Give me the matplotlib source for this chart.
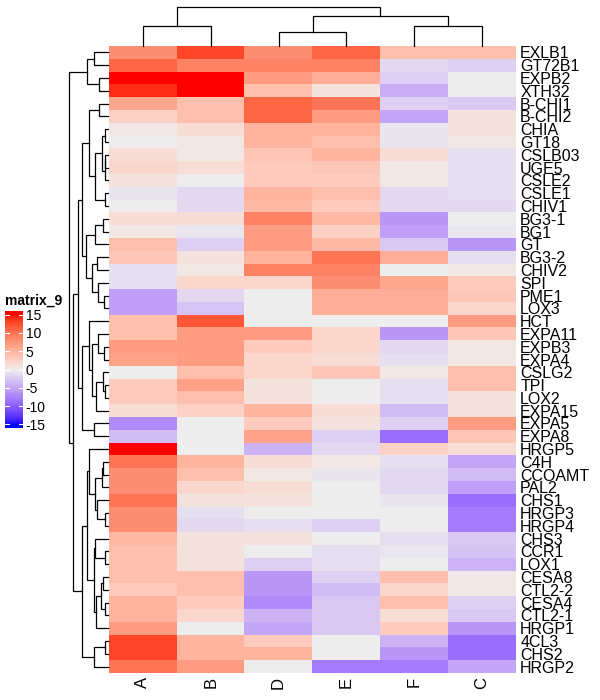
import numpy as np
import matplotlib
matplotlib.use("Agg")
import matplotlib.pyplot as plt
from matplotlib.colors import ListedColormap

# ---------------- data ----------------
columns = ["A", "B", "D", "E", "F", "C"]
rows = ["EXLB1", "GT72B1", "EXPB2", "XTH32", "B-CHI1", "B-CHI2", "CHIA", "GT18",
        "CSLB03", "UGE5", "CSLE2", "CSLE1", "CHIV1", "BG3-1", "BG1", "GT", "BG3-2",
        "CHIV2", "SPI", "PME1", "LOX3", "HCT", "EXPA11", "EXPB3", "EXPA4", "CSLG2",
        "TPI", "LOX2", "EXPA15", "EXPA5", "EXPA8", "HRGP5", "C4H", "CCOAMT", "PAL2",
        "CHS1", "HRGP3", "HRGP4", "CHS3", "CCR1", "LOX1", "CESA8", "CTL2-2", "CESA4",
        "CTL2-1", "HRGP1", "4CL3", "CHS2", "HRGP2"]

col_A = [8, 11, 15, 14, 6, 2.5, 0.5, 0, 1.5, 2, 1, -0.5, 0, 1.5, 0.5, 4, 3.5, -1, -1,
         -5.5, -5.5, 4, 4, 7, 6.5, 0, 3, 3, 1.5, -7, -3.5, 15, 10, 8, 8, 10, 8, 8, 4.5,
         4, 4, 4, 3, 5, 5, 7, 13, 13, 10]
col_B = [13, 9, 15, 15, 4, 4, 1.5, 0.5, 0.5, 1.5, 0, -1.5, -1.5, 1.5, -0.5, -2, 1,
         0.5, 2, -1.5, -3, 12, 7, 7, 7, 4, 6.5, 4, 2.5, 0, 0, 0, 5, 4, 2, 1, -1, -1.5,
         1, 1, 1, 4, 4, 3, 2, 0, 5, 5, 7]
col_D = [8, 9, 7, 4, 11, 11, 5, 5, 3.5, 3, 3, 5, 4.5, 9, 7, 7, 5, 9, 2, 0, 0, 0, 7,
         3, 2, 2, 1, 1, 5, 3, 6.5, -4, 1.5, 0.5, 1.5, 1, 0, -1, 1, 0, -2, -6, -6, -7,
         -4, -5, 3, 5, 0]
col_E = [11, 9, 5.5, 1, 10, 7, 5, 4, 5, 3.5, 3, 4, 3, 4.5, 2.5, 4.5, 10, 9, 8, 5.5,
         5.5, 0, 2, 2, 1.5, 3.5, 0, 0, 1.5, 1, -2, -1.5, 0.5, -0.5, 0, 0, 0, -2, 0,
         -1, -1, -2, -3.5, -2.5, -2.5, -2.5, 0, 0, -8]
col_F = [4, -1.5, -2, -4.5, -2, -5, -0.5, -0.5, 1.5, 0.5, 0.5, -1.5, -1.5, -6, -5.5,
         -2.5, 5.5, 0, 6, 5.5, 5.5, 0, -6, -1.5, -1, 0.5, -1, -1, -3.5, -2, -9, 2.5,
         -1, -1.5, -1.5, -0.5, 0, 0, -1, -0.5, 0, 4, 2, 4, 1.5, 3, -4, -6, -8]
col_C = [4, -2, 0, 0, -2.5, 1, 1, 0.5, -1, -1, -1, -1, -1.5, 0, -0.5, -6, -1, 0.5, 3,
         3.5, 2, 7, 3.5, 0.5, 0.5, 4, 4, 1, 1, 7, 3.5, 1.5, -5, -3.5, -5.5, -9, -8,
         -8, -2.5, -3, -4, 0.5, 0.5, -2, -2.5, -6, -9, -9, -5]

# column dendrogram: [height, left, right]
col_tree = [39, [20, "A", "B"], [30, [14, "D", "E"], [20, "F", "C"]]]

# row dendrogram: [height, left, right]
row_tree = [38.7,
    [21, [14.3, "EXLB1", "GT72B1"], [8.7, "EXPB2", "XTH32"]],
    [35.3,
        [30,
            [26,
                [19, [8.7, "B-CHI1", "B-CHI2"],
                     [13, [6, [3, "CHIA", "GT18"], [3.3, [2.7, "CSLB03", "UGE5"], "CSLE2"]],
                          [3, "CSLE1", "CHIV1"]]],
                [22, [12.7, [5, "BG3-1", "BG1"], "GT"],
                     [16, [11, "BG3-2", "CHIV2"], [10, "SPI", [4, "PME1", "LOX3"]]]]],
            [26,
                [19.3, "HCT", [16, [10, "EXPA11", [4, "EXPB3", "EXPA4"]],
                                   [12, [5, "CSLG2", [3, "TPI", "LOX2"]], "EXPA15"]]],
                [13.7, "EXPA5", "EXPA8"]]],
        [25.7,
            [21,
                [19.3, "HRGP5", [12.7, [6, [5, "C4H", "CCOAMT"], "PAL2"],
                                       [11, "CHS1", [2.7, "HRGP3", "HRGP4"]]]],
                [14, [12.7, "CHS3", [2.7, "CCR1", "LOX1"]],
                     [11.7, [7, [5.3, "CESA8", "CTL2-2"], [2.7, "CESA4", "CTL2-1"]], "HRGP1"]]],
            [13.7, [3, "4CL3", "CHS2"], "HRGP2"]]]]

legend_title = "matrix_9"
legend_ticks = [15, 10, 5, 0, -5, -10, -15]

data = np.array([col_A, col_B, col_D, col_E, col_F, col_C], dtype=float).T

# ---------------- colour map (LAB interpolation blue - #EEEEEE - red) ----------------
M = np.array([[0.4124564, 0.3575761, 0.1804375],
              [0.2126729, 0.7151522, 0.0721750],
              [0.0193339, 0.1191920, 0.9503041]])
WHITE = np.array([0.95047, 1.0, 1.08883])


def srgb_to_lab(rgb):
    rgb = np.asarray(rgb, float)
    lin = np.where(rgb <= 0.04045, rgb / 12.92, ((rgb + 0.055) / 1.055) ** 2.4)
    xyz = lin @ M.T
    t = xyz / WHITE
    d = 6 / 29
    f = np.where(t > d ** 3, np.cbrt(t), t / (3 * d * d) + 4 / 29)
    L = 116 * f[..., 1] - 16
    a = 500 * (f[..., 0] - f[..., 1])
    b = 200 * (f[..., 1] - f[..., 2])
    return np.stack([L, a, b], -1)


def lab_to_srgb(lab):
    L, a, b = lab[..., 0], lab[..., 1], lab[..., 2]
    fy = (L + 16) / 116
    fx = fy + a / 500
    fz = fy - b / 200
    f = np.stack([fx, fy, fz], -1)
    d = 6 / 29
    t = np.where(f > d, f ** 3, 3 * d * d * (f - 4 / 29))
    xyz = t * WHITE
    lin = np.clip(xyz @ np.linalg.inv(M).T, 0, 1)
    rgb = np.where(lin <= 0.0031308, 12.92 * lin, 1.055 * lin ** (1 / 2.4) - 0.055)
    return np.clip(rgb, 0, 1)


anchors = srgb_to_lab(np.array([[0, 0, 1], [0xEE / 255] * 3, [1, 0, 0]]))
n = 256
ts = np.linspace(0, 1, n)
cols = []
for t in ts:
    if t <= 0.5:
        u = t / 0.5
        lab = anchors[0] * (1 - u) + anchors[1] * u
    else:
        u = (t - 0.5) / 0.5
        lab = anchors[1] * (1 - u) + anchors[2] * u
    cols.append(lab)
cmap = ListedColormap(lab_to_srgb(np.array(cols)))

# ---------------- figure ----------------
W, H = 600, 700
fig = plt.figure(figsize=(6, 7), dpi=100)
plt.rcParams["font.family"] = ["Liberation Sans", "DejaVu Sans"]


def px(x0, y0, x1, y1):
    return [x0 / W, 1 - y1 / H, (x1 - x0) / W, (y1 - y0) / H]


hm_x0, hm_y0, hm_x1, hm_y1 = 109, 46, 516, 673
ax = fig.add_axes(px(hm_x0, hm_y0, hm_x1, hm_y1))
ax.imshow(data, cmap=cmap, vmin=-15, vmax=15, aspect="auto", interpolation="nearest")
ax.set_xticks(range(len(columns)))
ax.set_xticklabels(columns, rotation=90, fontsize=12)
ax.set_yticks(range(len(rows)))
ax.set_yticklabels(rows, fontsize=11.5)
ax.yaxis.tick_right()
ax.tick_params(length=0, pad=3)
for s in ax.spines.values():
    s.set_visible(False)

# dendrograms
def draw(node, pos, a, orient):
    if isinstance(node, str):
        return pos[node], 0.0
    h, l, r = node
    pl, hl = draw(l, pos, a, orient)
    pr, hr = draw(r, pos, a, orient)
    if orient == "left":
        a.plot([hl, h, h, hr], [pl, pl, pr, pr], color="black", lw=0.9,
               clip_on=False, solid_joinstyle="miter")
    else:
        a.plot([pl, pl, pr, pr], [hl, h, h, hr], color="black", lw=0.9,
               clip_on=False, solid_joinstyle="miter")
    return (pl + pr) / 2, h


axl = fig.add_axes(px(59, hm_y0, 108, hm_y1))
draw(row_tree, {r: i for i, r in enumerate(rows)}, axl, "left")
axl.set_xlim(49, 0)
axl.set_ylim(len(rows) - 0.5, -0.5)
axl.axis("off")

axt = fig.add_axes(px(hm_x0, 0, hm_x1, hm_y0))
draw(col_tree, {c: i for i, c in enumerate(columns)}, axt, "top")
axt.set_xlim(-0.5, len(columns) - 0.5)
axt.set_ylim(0, 46)
axt.axis("off")

# legend
cax = fig.add_axes(px(5, 311, 23, 428))
grad = np.linspace(-16, 16, 256).reshape(-1, 1)
cax.imshow(grad, cmap=cmap, vmin=-15, vmax=15, aspect="auto", origin="lower",
           extent=[0, 1, -16, 16])
cax.set_xlim(0, 1)
cax.set_ylim(-16, 16)
cax.set_xticks([])
cax.set_yticks(legend_ticks)
cax.set_yticklabels([str(t) for t in legend_ticks], fontsize=10)
cax.yaxis.tick_right()
cax.tick_params(axis="y", length=0, pad=2)
for t in legend_ticks:
    cax.plot([0, 0.22], [t, t], color="white", lw=0.8)
    cax.plot([0.78, 1], [t, t], color="white", lw=0.8)
for s in cax.spines.values():
    s.set_visible(False)
fig.text(5 / W, 1 - 301 / H, legend_title, fontsize=10, fontweight="bold",
         ha="left", va="center")

fig.savefig("out.png", dpi=100)
